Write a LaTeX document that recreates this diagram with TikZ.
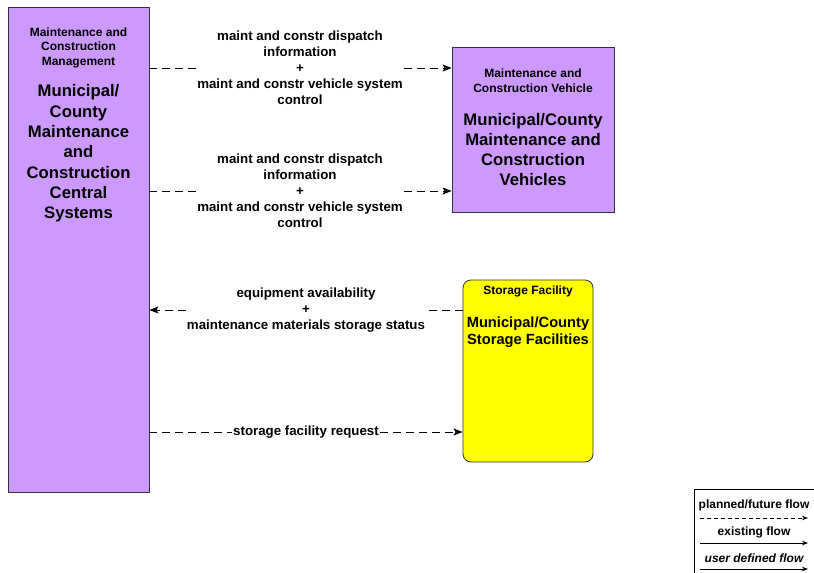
\documentclass[tikz,border=0pt]{standalone}
\usepackage{fontspec}
\setmainfont{Liberation Sans}
\usetikzlibrary{arrows.meta,positioning}
\definecolor{lilac}{HTML}{CC99FF}
\definecolor{storeyellow}{HTML}{FFFF00}

\begin{document}
\begin{tikzpicture}[x=1pt,y=-1pt,
    every node/.style={font=\bfseries},
    sysbox/.style={draw=black!80,line width=0.8pt,fill=lilac},
    storebox/.style={draw=black!80,line width=0.8pt,fill=storeyellow,rounded corners=8pt},
    smalltxt/.style={align=center,font=\bfseries\fontsize{12}{14.5}\selectfont},
    bigtxt/.style={align=center,font=\bfseries\fontsize{16.7}{20.3}\selectfont},
    flowtxt/.style={align=center,inner sep=1pt,font=\bfseries\fontsize{13.3}{16}\selectfont},
    flow/.style={line width=1pt,dash pattern=on 8pt off 5pt},
    tip/.style={-{Stealth[length=9pt,width=7pt,inset=2pt]}}]
    \useasboundingbox (0,0) rectangle (814,573);

    % Terminator boxes
    \node[sysbox,minimum width=141,minimum height=485] (mcm) at (78.5,249.5) {};
    \node[sysbox,minimum width=162,minimum height=165] (veh) at (533,129.5) {};
    \node[storebox,minimum width=130,minimum height=182] (stor) at (528,371) {};

    % Box texts
    \node[smalltxt] (mcmtop) at (78.5,47.5) {Maintenance and\\Construction\\Management};
    \node[bigtxt] (mcmname) at (78.5,153.5) {Municipal/\\County\\Maintenance\\and\\Construction\\Central\\Systems};
    \node[smalltxt] (vehtop) at (533,80.5) {Maintenance and\\Construction Vehicle};
    \node[bigtxt] (vehname) at (533,149.5) {Municipal/County\\Maintenance and\\Construction\\Vehicles};
    \node[smalltxt] (stortop) at (528,291) {Storage Facility};
    \node[bigtxt,font=\bfseries\fontsize{14.7}{17}\selectfont] (storname) at (528,332.5) {Municipal/County\\Storage Facilities};

    % Flow labels
    \node[flowtxt] (dispA) at (300,68) {maint and constr dispatch\\information\\+\\maint and constr vehicle system\\control};
    \node[flowtxt] (dispB) at (300,191) {maint and constr dispatch\\information\\+\\maint and constr vehicle system\\control};
    \node[flowtxt] (equip) at (306,310) {equipment availability\\+\\maintenance materials storage status};
    \node[flowtxt,inner sep=1pt] (req) at (306,432) {storage facility request};

    % Flows
    \draw[flow] (mcm.east |- dispA) -- (dispA);
    \draw[flow,tip] (dispA) -- (veh.west |- dispA);
    \draw[flow] (mcm.east |- dispB) -- (dispB);
    \draw[flow,tip] (dispB) -- (veh.west |- dispB);
    \draw[flow] (stor.west |- equip) -- (equip);
    \draw[flow,tip] (equip) -- (mcm.east |- equip);
    \draw[flow] (mcm.east |- req) -- (req);
    \draw[flow,tip] (req) -- (stor.west |- req);

    % Legend
    \draw[line width=0.8pt] (694,577) -- (694,489) -- (818,489);
    \node[flowtxt,font=\bfseries\fontsize{12}{14}\selectfont] (lgplan) at (754,505) {planned/future flow};
    \node[flowtxt,font=\bfseries\fontsize{12}{14}\selectfont] (lgexist) at (754,532) {existing flow};
    \node[flowtxt,font=\bfseries\itshape\fontsize{12}{14}\selectfont] (lguser) at (754,558) {user defined flow};
    \coordinate (planA) at (700,518);
    \coordinate (planB) at (808,518);
    \coordinate (existA) at (700,543);
    \coordinate (existB) at (808,543);
    \coordinate (userA) at (700,569);
    \coordinate (userB) at (808,569);
    \draw[line width=0.8pt,dash pattern=on 4pt off 3pt,-{Stealth[length=6pt,width=4.5pt]}] (planA) -- (planB);
    \draw[line width=0.8pt,-{Stealth[length=6pt,width=4.5pt]}] (existA) -- (existB);
    \draw[line width=1pt,-{Stealth[length=6pt,width=4.5pt]}] (userA) -- (userB);
\end{tikzpicture}
\end{document}
